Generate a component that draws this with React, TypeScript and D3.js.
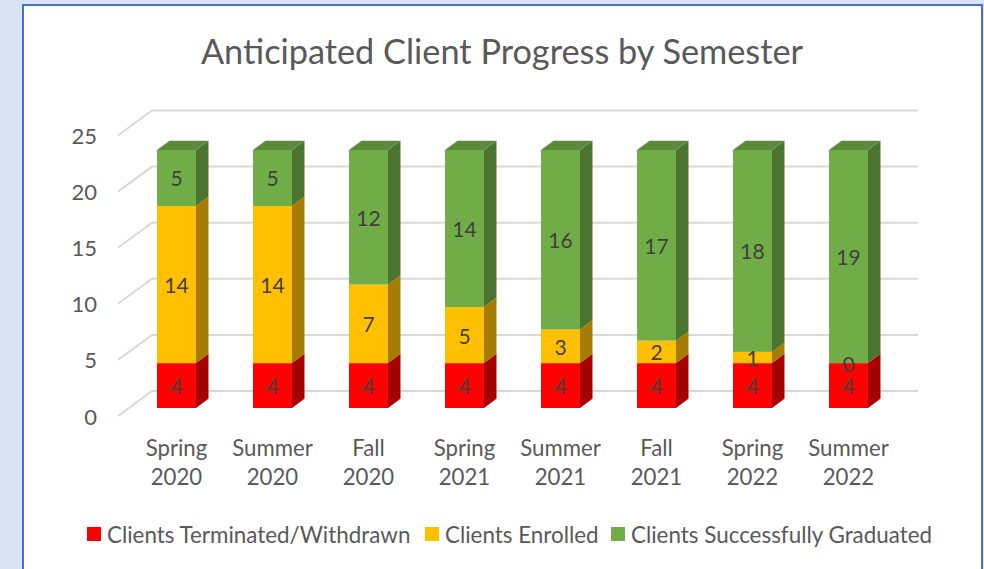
import React from "react";
import * as d3 from "d3";

const categories = ["Spring 2020", "Summer 2020", "Fall 2020", "Spring 2021", "Summer 2021", "Fall 2021", "Spring 2022", "Summer 2022"];
const terminated = [4, 4, 4, 4, 4, 4, 4, 4];
const enrolled = [14, 14, 7, 5, 3, 2, 1, 0];
const graduated = [5, 5, 12, 14, 16, 17, 18, 19];
const seriesNames = ["Clients Terminated/Withdrawn", "Clients Enrolled", "Clients Successfully Graduated"];
const yTicks = [0, 5, 10, 15, 20, 25];

const front = ["#FF0000", "#FFC000", "#70AD47"];
const side = ["#A80000", "#A67D00", "#4B7431"];
const top = ["#C00000", "#BF9000", "#5A8A39"];

const W = 984;
const H = 569;
const FONT = "Lato, 'Open Sans', sans-serif";
const TEXT = "#595959";

export default function App() {
  const rows = categories.map((c, i) => ({ cat: c, t: terminated[i], e: enrolled[i], g: graduated[i] }));
  const keys = ["t", "e", "g"];
  const stack = d3.stack<any>().keys(keys)(rows);

  const y = d3.scaleLinear().domain([0, 25]).range([408, 408 - 25 * 11.22]);
  const x = d3.scaleBand<string>().domain(categories).range([128.5, 896.5]).paddingInner(0.594).paddingOuter(0.297);
  const bw = x.bandwidth();
  const ddx = 12.5, ddy = 9.3; // bar depth
  const gFrontX = 118, gBackX = 152, gRightX = 918;
  const gFrontOff = 8, gBackOff = -17;

  return (
    <div style={{ position: "absolute", left: 0, top: 0 }}>
      <svg width={W} height={H} style={{ display: "block" }}>
        <rect x={0} y={0} width={W} height={H} fill="#DAE3F3" />
        <rect x={23} y={5} width={959} height={620} fill="#FFFFFF" stroke="#4472C4" strokeWidth={2} />
        <text x={502} y={50} textAnchor="middle" dominantBaseline="central" fontFamily={FONT} fontSize={34.3} fill={TEXT}>
          Anticipated Client Progress by Semester
        </text>
        {yTicks.map((v) => (
          <g key={v}>
            <polyline
              points={`${gFrontX},${y(v) + gFrontOff} ${gBackX},${y(v) + gBackOff} ${gRightX},${y(v) + gBackOff}`}
              fill="none"
              stroke="#D9D9D9"
              strokeWidth={2}
            />
            <text x={97} y={y(v) + gFrontOff} textAnchor="end" dominantBaseline="central" fontFamily={FONT} fontSize={22} fill={TEXT}>
              {v}
            </text>
          </g>
        ))}
        {categories.map((c, i) => {
          const xl = x(c)!;
          const xr = xl + bw;
          const last = stack[stack.length - 1][i];
          const yt = y(last[1]);
          return (
            <g key={c}>
              {stack.map((s, k) => {
                const d = s[i];
                const y0 = y(d[0]);
                const y1 = y(d[1]);
                return (
                  <g key={k}>
                    <polygon points={`${xr},${y1} ${xr + ddx},${y1 - ddy} ${xr + ddx},${y0 - ddy} ${xr},${y0}`} fill={side[k]} />
                    <rect x={xl} y={y1} width={bw} height={y0 - y1} fill={front[k]} />
                  </g>
                );
              })}
              <polygon points={`${xl},${yt} ${xl + ddx},${yt - ddy} ${xr + ddx},${yt - ddy} ${xr},${yt}`} fill={top[2]} />
              {stack.map((s, k) => {
                const d = s[i];
                return (
                  <text key={"l" + k} x={xl + bw / 2} y={(y(d[0]) + y(d[1])) / 2} textAnchor="middle" dominantBaseline="central" fontFamily={FONT} fontSize={21} fill="#404040">
                    {d[1] - d[0]}
                  </text>
                );
              })}
              {c.split(" ").map((w, j) => (
                <text key={"c" + j} x={xl + bw / 2} y={447 + j * 29} textAnchor="middle" dominantBaseline="central" fontFamily={FONT} fontSize={22.2} fill={TEXT}>
                  {w}
                </text>
              ))}
            </g>
          );
        })}
        {seriesNames.map((n, k) => {
          const sx = [87, 425, 611][k];
          return (
            <g key={n}>
              <rect x={sx} y={527} width={14} height={14} fill={front[k]} />
              <text x={sx + 20} y={534} dominantBaseline="central" fontFamily={FONT} fontSize={22.4} fill={TEXT}>
                {n}
              </text>
            </g>
          );
        })}
      </svg>
    </div>
  );
}
